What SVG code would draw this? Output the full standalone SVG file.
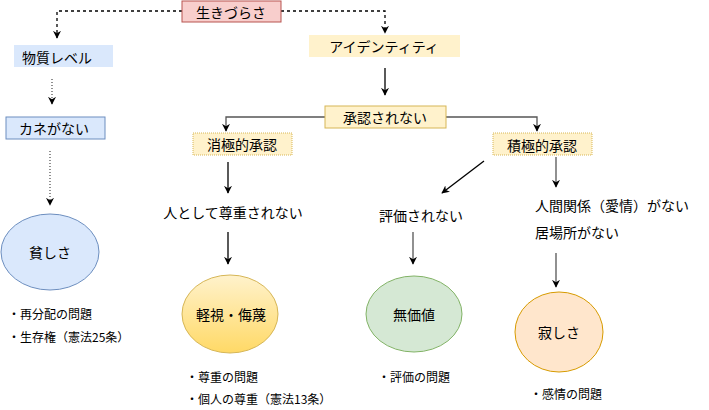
<svg xmlns="http://www.w3.org/2000/svg" width="709" height="410" viewBox="0 0 709 410">
<style>
text{font-family:"Noto Sans CJK JP","Liberation Sans",sans-serif;font-size:14px;fill:#000;dominant-baseline:central}
.c{text-anchor:middle}
.s{font-size:12px}
.ln{fill:none;stroke:#000;stroke-width:1.3}
.dash{stroke-dasharray:3 3}
.dot{stroke-dasharray:1 2;stroke:#555}
.g{stroke:#555}
</style>
<defs>
<marker id="a" viewBox="0 0 10 10" refX="9" refY="5" markerWidth="8" markerHeight="8" orient="auto" markerUnits="userSpaceOnUse"><path d="M0,0L10,5L0,10L3,5Z" fill="#000"/></marker>
<linearGradient id="y" x1="0" y1="0" x2="0" y2="1"><stop offset="0" stop-color="#fff2cc"/><stop offset="1" stop-color="#ffd966"/></linearGradient>
</defs>
<g id="connectors">
<path class="ln dash" d="M182,11H57V38" marker-end="url(#a)"/>
<path class="ln dash" d="M281,11H385V33" marker-end="url(#a)"/>
<path class="ln dot" d="M52,79V104" marker-end="url(#a)"/>
<path class="ln dot" d="M50,151V205" marker-end="url(#a)"/>
<path class="ln" d="M385,68V95" marker-end="url(#a)"/>
<path class="ln g" d="M325,117H226V131" marker-end="url(#a)"/>
<path class="ln g" d="M446,117H537V131" marker-end="url(#a)"/>
<path class="ln" d="M228,162V193" marker-end="url(#a)"/>
<path class="ln" d="M484,161L442,193" marker-end="url(#a)"/>
<path class="ln g" d="M556,157V187" marker-end="url(#a)"/>
<path class="ln" d="M228,232V264" marker-end="url(#a)"/>
<path class="ln g" d="M413,232V264" marker-end="url(#a)"/>
<path class="ln g" d="M556,253V287" marker-end="url(#a)"/>
</g>
<g id="n1"><rect x="182" y="1" width="99" height="21" fill="#f8cecc" stroke="#b85450"/><text class="c" x="231" y="12">生きづらさ</text></g>
<g id="n2"><rect x="14" y="45" width="99" height="22" fill="#dae8fc"/><text class="c" x="57" y="57">物質レベル</text></g>
<g id="n3"><rect x="6" y="117" width="99" height="22" fill="#dae8fc" stroke="#6c8ebf"/><text class="c" x="54" y="128">カネがない</text></g>
<g id="n4"><ellipse cx="50" cy="252" rx="49" ry="38" fill="#dae8fc" stroke="#6c8ebf"/><text class="c" x="50" y="252">貧しさ</text></g>
<g id="n5"><rect x="309" y="35" width="151" height="22" fill="#fff2cc"/><text class="c" x="384" y="46">アイデンティティ</text></g>
<g id="n6"><rect x="325" y="106" width="121" height="22" fill="#fff2cc" stroke="#d6b656"/><text class="c" x="385" y="117">承認されない</text></g>
<g id="n7"><rect x="193" y="133" width="99" height="22" fill="#fff2cc" stroke="#d6b656" stroke-dasharray="1 1"/><text class="c" x="242" y="144">消極的承認</text></g>
<g id="n8"><rect x="493" y="133" width="99" height="22" fill="#fff2cc" stroke="#d6b656" stroke-dasharray="1 1"/><text class="c" x="542" y="145">積極的承認</text></g>
<g id="n9"><text class="c" x="233" y="212">人として尊重されない</text></g>
<g id="n10"><text class="c" x="421" y="215">評価されない</text></g>
<g id="n11"><text x="535" y="205">人間関係（愛情）がない</text><text x="535" y="232">居場所がない</text></g>
<g id="n12"><ellipse cx="230" cy="314" rx="48" ry="39" fill="url(#y)" stroke="#d6b656"/><text class="c" x="231" y="314">軽視・侮蔑</text></g>
<g id="n13"><ellipse cx="414" cy="314" rx="48" ry="38" fill="#d5e8d4" stroke="#82b366"/><text class="c" x="414" y="314">無価値</text></g>
<g id="n14"><ellipse cx="559" cy="332" rx="44" ry="40" fill="#ffe6cc" stroke="#d79b00"/><text class="c" x="559" y="332">寂しさ</text></g>
<g id="notes">
<text class="s" x="8" y="313">・再分配の問題</text>
<text class="s" x="8" y="336">・生存権（憲法25条）</text>
<text class="s" x="186" y="376">・尊重の問題</text>
<text class="s" x="186" y="398">・個人の尊重（憲法13条）</text>
<text class="s" x="378" y="376">・評価の問題</text>
<text class="s" x="530" y="393">・感情の問題</text>
</g>
</svg>
